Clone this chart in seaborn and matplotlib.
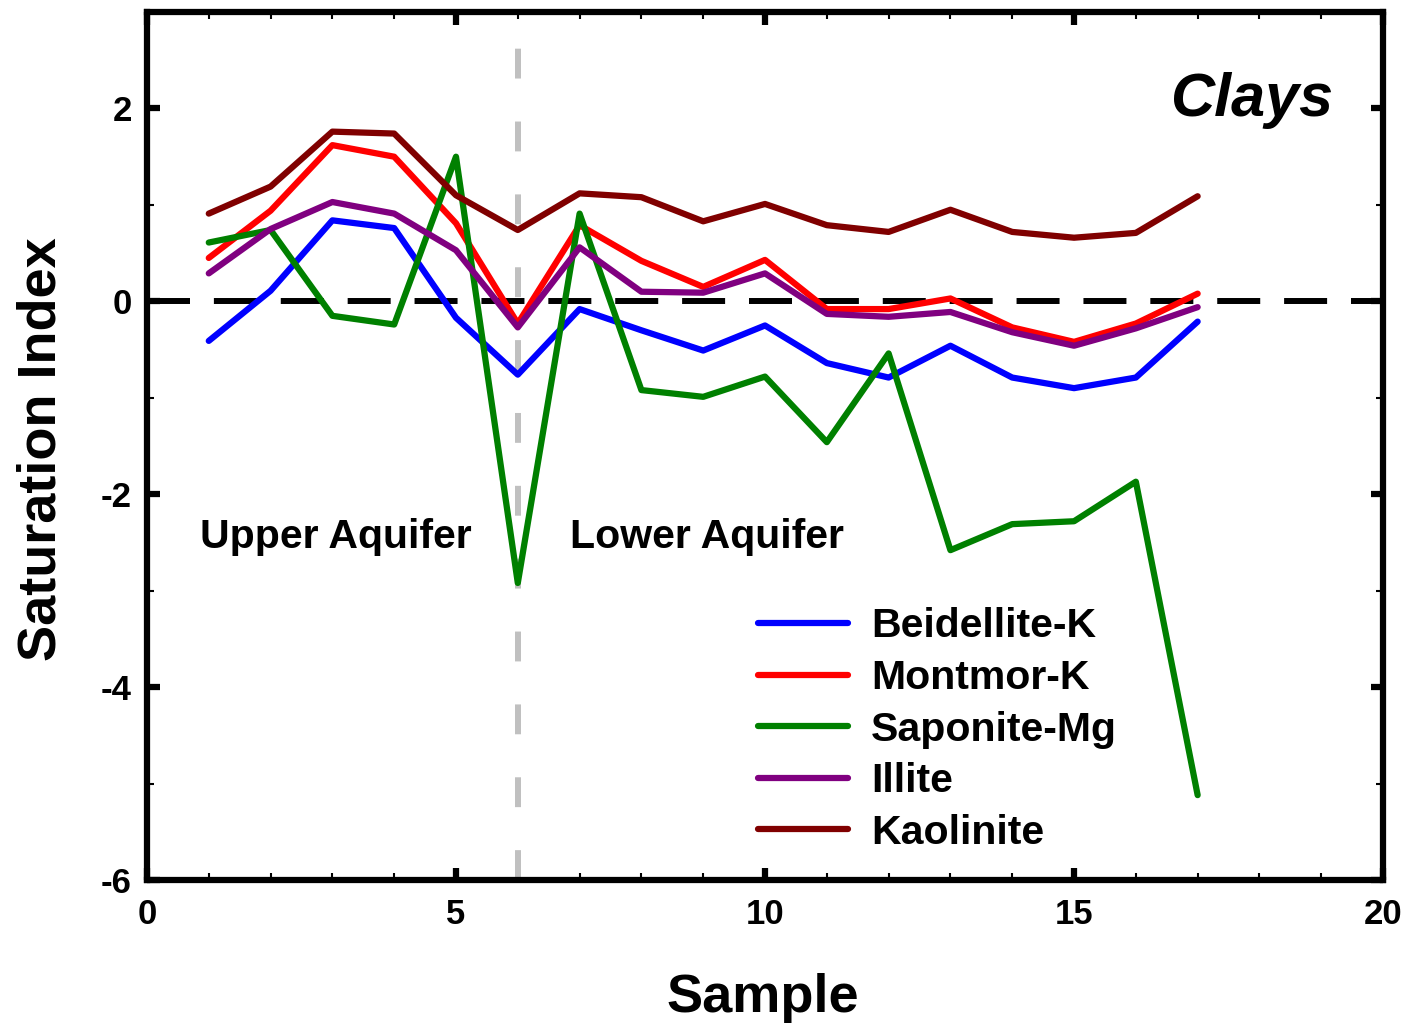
import matplotlib
matplotlib.use("Agg")
import matplotlib.pyplot as plt
import seaborn as sns
import pandas as pd
import numpy as np
from matplotlib.ticker import MultipleLocator, FixedLocator

samples = list(range(1, 18))
beidellite_k = [-0.41, 0.11, 0.84, 0.76, -0.17, -0.76, -0.08, -0.30, -0.51, -0.25, -0.64, -0.79, -0.46, -0.79, -0.90, -0.79, -0.21]
montmor_k = [0.45, 0.94, 1.62, 1.50, 0.81, -0.23, 0.79, 0.42, 0.15, 0.43, -0.08, -0.08, 0.03, -0.27, -0.42, -0.23, 0.08]
saponite_mg = [0.61, 0.74, -0.15, -0.24, 1.50, -2.92, 0.91, -0.92, -0.99, -0.78, -1.46, -0.54, -2.58, -2.31, -2.28, -1.87, -5.12]
illite = [0.29, 0.75, 1.03, 0.91, 0.53, -0.27, 0.56, 0.10, 0.09, 0.29, -0.13, -0.16, -0.11, -0.32, -0.46, -0.28, -0.06]
kaolinite = [0.91, 1.19, 1.76, 1.74, 1.10, 0.74, 1.12, 1.08, 0.83, 1.01, 0.79, 0.72, 0.95, 0.72, 0.66, 0.71, 1.09]

mineral_names = ["Beidellite-K", "Montmor-K", "Saponite-Mg", "Illite", "Kaolinite"]
mineral_colors = ["#0000FF", "#FF0000", "#008000", "#800080", "#800000"]
series = [beidellite_k, montmor_k, saponite_mg, illite, kaolinite]

x_ticks = [0, 5, 10, 15, 20]
y_ticks = [-6, -4, -2, 0, 2]

df = pd.DataFrame({
    "Sample": np.tile(samples, len(series)),
    "SI": np.concatenate(series),
    "Mineral": np.repeat(mineral_names, len(samples)),
})

sns.set_style("ticks")
plt.rcParams["font.family"] = ["Liberation Sans", "DejaVu Sans"]
plt.rcParams["font.weight"] = "bold"
plt.rcParams["axes.unicode_minus"] = False
for k in ["text.color", "axes.labelcolor", "xtick.color", "ytick.color", "axes.edgecolor"]:
    plt.rcParams[k] = "black"

fig = plt.figure(figsize=(14.01, 10.29), dpi=100)
ax = fig.add_axes([0.1049, 0.1448, 0.9872 - 0.1049, 0.9883 - 0.1448])

# reference lines
ax.plot([0, 20], [0, 0], color="black", lw=4.3, dashes=(7.2, 4.0), zorder=1)
ax.plot([6, 6], [-6, 3], color="#C0C0C0", lw=4.3, dashes=(5, 7.2), zorder=1)

sns.lineplot(data=df, x="Sample", y="SI", hue="Mineral", hue_order=mineral_names,
             palette=mineral_colors, linewidth=4.5, ax=ax, zorder=3)

ax.set_xlim(0, 20)
ax.set_ylim(-6, 3)
ax.xaxis.set_major_locator(FixedLocator(x_ticks))
ax.xaxis.set_minor_locator(MultipleLocator(1))
ax.yaxis.set_major_locator(FixedLocator(y_ticks))
ax.yaxis.set_minor_locator(MultipleLocator(1))
ax.tick_params(which="both", direction="in", top=True, right=True, labelsize=25, colors="black")
ax.tick_params(which="major", length=9, width=4.5)
ax.tick_params(which="minor", length=5, width=1.5)
ax.tick_params(axis="x", which="major", pad=13)
ax.tick_params(axis="y", which="major", pad=11)
for lbl in ax.get_xticklabels() + ax.get_yticklabels():
    lbl.set_fontweight("bold")
for s in ax.spines.values():
    s.set_linewidth(4.5)
    s.set_color("black")
    s.set_visible(True)

ax.set_xlabel("Sample", fontsize=39, fontweight="bold")
ax.set_ylabel("Saturation Index", fontsize=39, fontweight="bold")
ax.xaxis.label.set_va("center")
ax.yaxis.label.set_va("center")
ax.xaxis.set_label_coords(0.498, -0.136)
ax.yaxis.set_label_coords(-0.085, 0.4965)

ax.text(0.86, -2.44, "Upper Aquifer", fontsize=29.5, fontweight="bold", ha="left", va="center")
ax.text(6.84, -2.44, "Lower Aquifer", fontsize=29.5, fontweight="bold", ha="left", va="center")
ax.text(19.19, 2.08, "Clays", fontsize=44, fontweight="bold", style="italic", ha="right", va="center")

leg = ax.legend(loc="upper left", bbox_to_anchor=(0.4945, 0.314), frameon=False,
                fontsize=29.5, handlelength=2.2, handletextpad=0.55, labelspacing=0.33,
                borderpad=0, borderaxespad=0)
for t in leg.get_texts():
    t.set_fontweight("bold")
    t.set_color("black")
for h in leg.get_lines():
    h.set_linewidth(4.5)

fig.savefig("out.png", dpi=100)
